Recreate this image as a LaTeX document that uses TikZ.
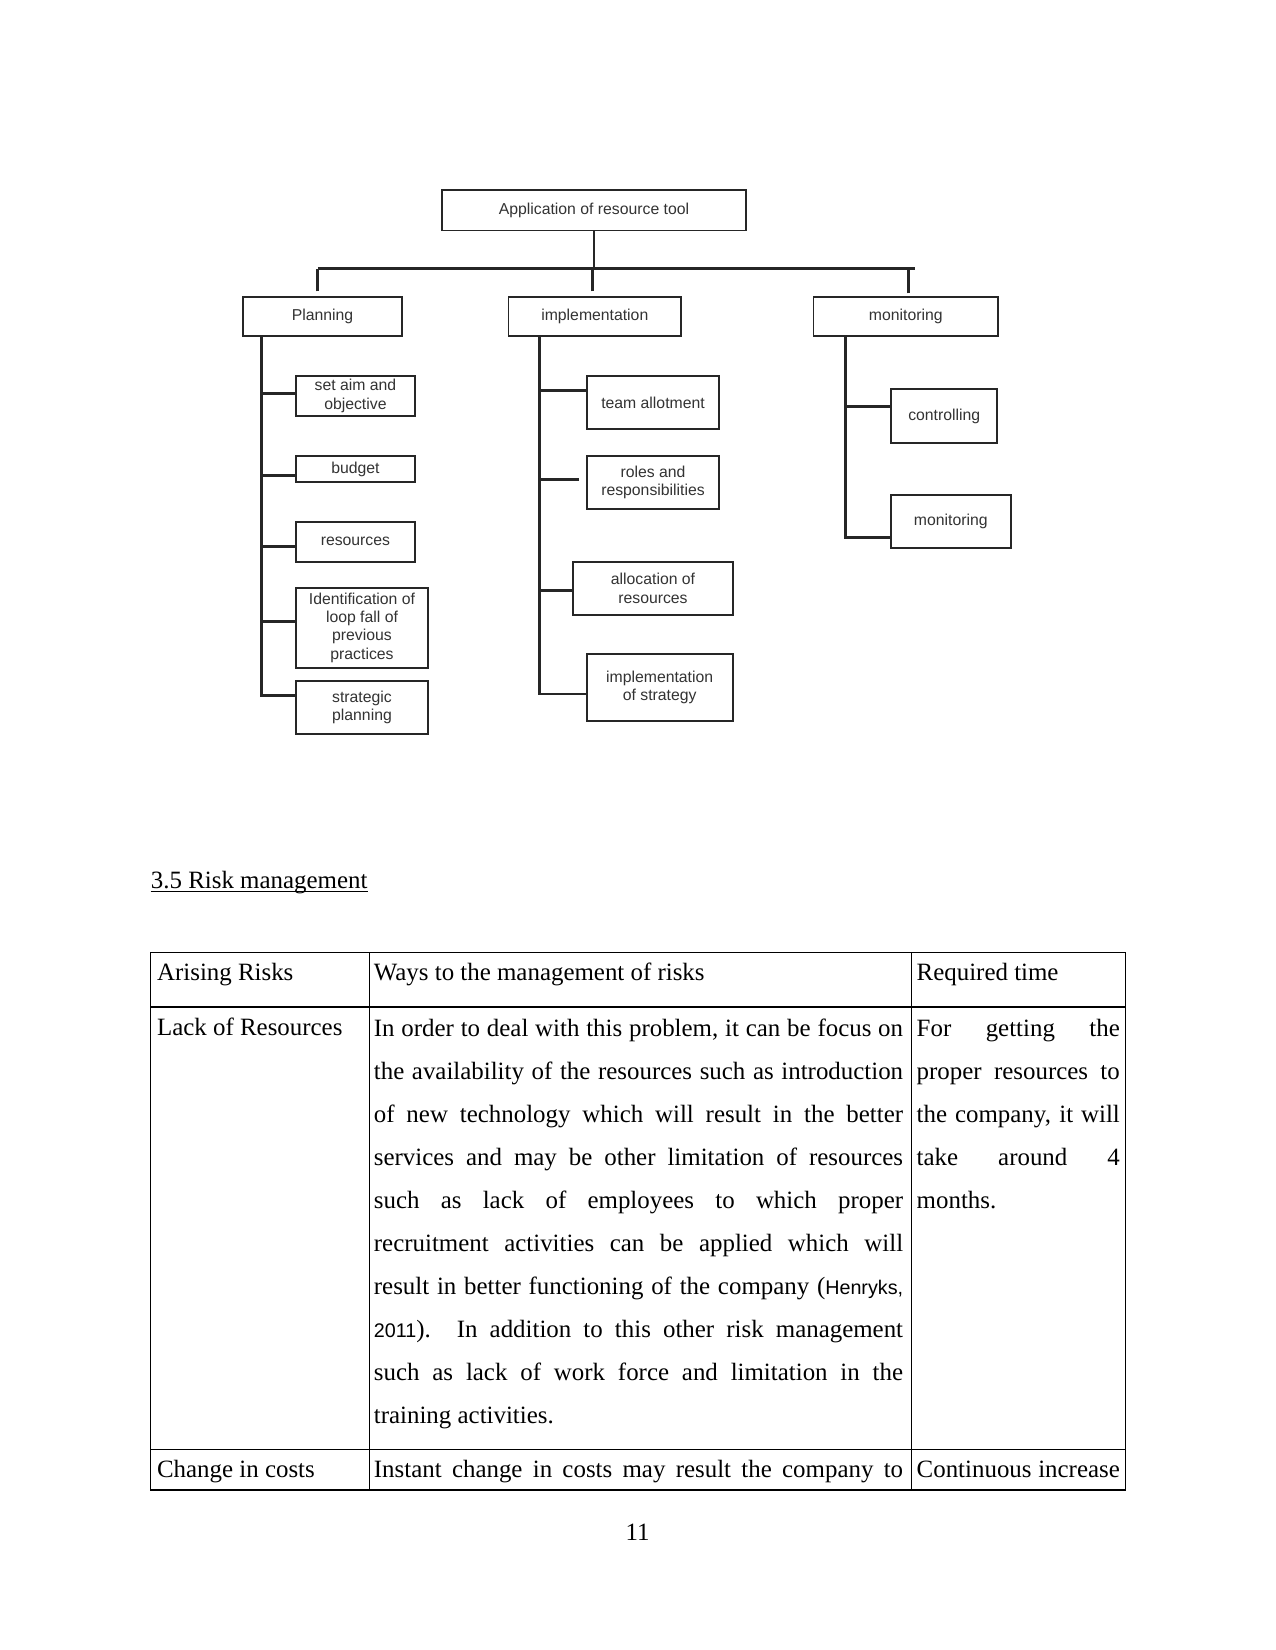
\documentclass[tikz,border=0pt]{standalone}
\usepackage{fontspec}
\setmainfont{Liberation Serif}
\newfontfamily\chartfont{Liberation Sans}
\usetikzlibrary{positioning,calc}
\newcommand{\jline}[2]{\makebox[#1][s]{#2}}
\newcommand{\citefont}{\chartfont\fontsize{9.5}{20.7}\selectfont}
\tikzset{
  box/.style={draw=black!85, line width=0.9bp, fill=white, inner sep=1bp,
    align=center, text=black!80, font=\chartfont\fontsize{7.6}{8.8}\selectfont},
  boxsize/.style 2 args={minimum width=#1, minimum height=#2},
  link/.style={draw=black!85, line width=1.4bp},
  cell/.style={anchor=base west, inner sep=0pt, align=left,
    font=\fontsize{12}{20.7}\selectfont},
  rule/.style={line width=0.6bp},
}

\begin{document}
\begin{tikzpicture}[x=0.48bp, y=-0.48bp]
\fill[white] (0,0) rectangle (1275,1650);
\useasboundingbox (0,0) rectangle (1275,1650);

% chart
\node[box, boxsize={145.9bp}{19.4bp}] (app) at (594,210.3) {Application of resource tool};
\node[box, boxsize={76.3bp}{18.7bp}] (plan) at (322.5,316.7) {Planning};
\node[box, boxsize={82.8bp}{18.7bp}] (impl) at (594.8,316.7) {implementation};
\node[box, boxsize={88.6bp}{18.7bp}] (moni) at (905.8,316.7) {monitoring};

\node[box, boxsize={57.3bp}{19.2bp}] (aim) at (355.4,396) {set aim and\\objective};
\node[box, boxsize={57.3bp}{12.8bp}] (budget) at (355.4,469) {budget};
\node[box, boxsize={57.3bp}{19.2bp}] (res) at (355.4,541.7) {resources};
\node[box, boxsize={63.6bp}{38.4bp}] (ident) at (362,627.7) {Identification of\\loop fall of\\previous\\practices};
\node[box, boxsize={63.6bp}{25.6bp}] (strat) at (362,707.3) {strategic\\planning};

\node[box, boxsize={63.6bp}{25.6bp}] (team) at (653,402.7) {team allotment};
\node[box, boxsize={63.6bp}{25.6bp}] (roles) at (653,482.3) {roles and\\responsibilities};
\node[box, boxsize={76.5bp}{25.6bp}] (alloc) at (653,588.3) {allocation of\\resources};
\node[box, boxsize={70.1bp}{32bp}] (impstr) at (659.7,687.3) {implementation\\of strategy};

\node[box, boxsize={51bp}{25.6bp}] (ctrl) at (944.2,416) {controlling};
\node[box, boxsize={57.5bp}{25.6bp}] (mon2) at (950.8,521.7) {monitoring};

% top level links
\draw[link] (app.south) -- ++(0,37.5) coordinate (bar);
\draw[link] ([xshift=-2.2bp,yshift=2.4bp]plan.north) coordinate (d1) -- (d1 |- bar);
\draw[link] ([xshift=-1.3bp,yshift=2.4bp]impl.north) coordinate (d2) -- (d2 |- bar);
\draw[link] ([xshift=1.5bp,yshift=1.4bp]moni.north) coordinate (d3) -- (d3 |- bar);
\draw[link] (d1 |- bar) -- (d3 |- bar) -- ++(2.9bp,0);

% trunks and branches
\coordinate (pt) at ([xshift=9.5bp]plan.south west);
\coordinate (it) at ([xshift=15.5bp]impl.south west);
\coordinate (mt) at ([xshift=15.9bp]moni.south west);

\draw[link] (pt) |- ([yshift=5.6bp]strat.west);
\foreach \n/\s in {aim/1.4, budget/-2.9, res/-2.4, ident/3.2}
  \draw[link] ([yshift=\s bp]\n.west) coordinate (b) -- (b -| pt);

\draw[link] (it) |- ([yshift=-3.2bp]impstr.west);
\foreach \n/\s in {team/5.8, alloc/-1.2}
  \draw[link] ([yshift=\s bp]\n.west) coordinate (b) -- (b -| it);
\draw[link, shorten <=3.2bp] ([yshift=1.4bp]roles.west) coordinate (b) -- (b -| it);

\draw[link] (mt) |- ([yshift=-7.5bp]mon2.west);
\draw[link] ([yshift=4.5bp]ctrl.west) coordinate (b) -- (b -| mt);

% heading
\node[cell] (head) at (150.5,888) {3.5 Risk management};
\draw[line width=0.5bp] ([yshift=-1.5bp]head.base west) -- ([yshift=-1.5bp]head.base east);

% table
\draw[rule] (150.4,952.3) rectangle (1125.6,1490);
\draw[rule] (150.4,1007) -- (1125.6,1007);
\draw[rule] (150.4,1449.5) -- (1125.6,1449.5);
\draw[rule] (369.3,952.3) -- (369.3,1490);
\draw[rule] (911.5,952.3) -- (911.5,1490);

\node[cell] (h1) at (156.7,980.5) {Arising Risks};
\node[cell] (h2) at (373.5,980.5) {Ways to the management of risks};
\node[cell] (h3) at (916.3,980.5) {Required time};

% multi-line cells: base is the last line
\node[cell] (r1a) at (156.7,1035.7) {Lack of Resources};
\node[cell] (r1b) at (373.5,1423.6) {%
\jline{254bp}{In order to deal with this problem, it can be focus on}\\
\jline{254bp}{the availability of the resources such as introduction}\\
\jline{254bp}{of new technology which will result in the better}\\
\jline{254bp}{services and may be other limitation of resources}\\
\jline{254bp}{such as lack of employees to which proper}\\
\jline{254bp}{recruitment activities can be applied which will}\\
\jline{254bp}{result in better functioning of the company ({\citefont Henryks,}}\\
\jline{254bp}{{\citefont 2011}). In addition to this other risk management}\\
\jline{254bp}{such as lack of work force and limitation in the}\\
training activities.};
\node[cell] (r1c) at (916.3,1208.1) {%
\jline{97.5bp}{For getting the}\\
\jline{97.5bp}{proper resources to}\\
\jline{97.5bp}{the company, it will}\\
\jline{97.5bp}{take around 4}\\
months.};

\node[cell] (r2a) at (156.7,1477) {Change in costs};
\node[cell] (r2b) at (373.5,1477) {\jline{254bp}{Instant change in costs may result the company to}};
\node[cell] (r2c) at (916.3,1477) {\jline{97.5bp}{Continuous increase}};

% page number
\node[cell, anchor=base] (pgno) at (637.5,1540) {11};
\end{tikzpicture}
\end{document}
